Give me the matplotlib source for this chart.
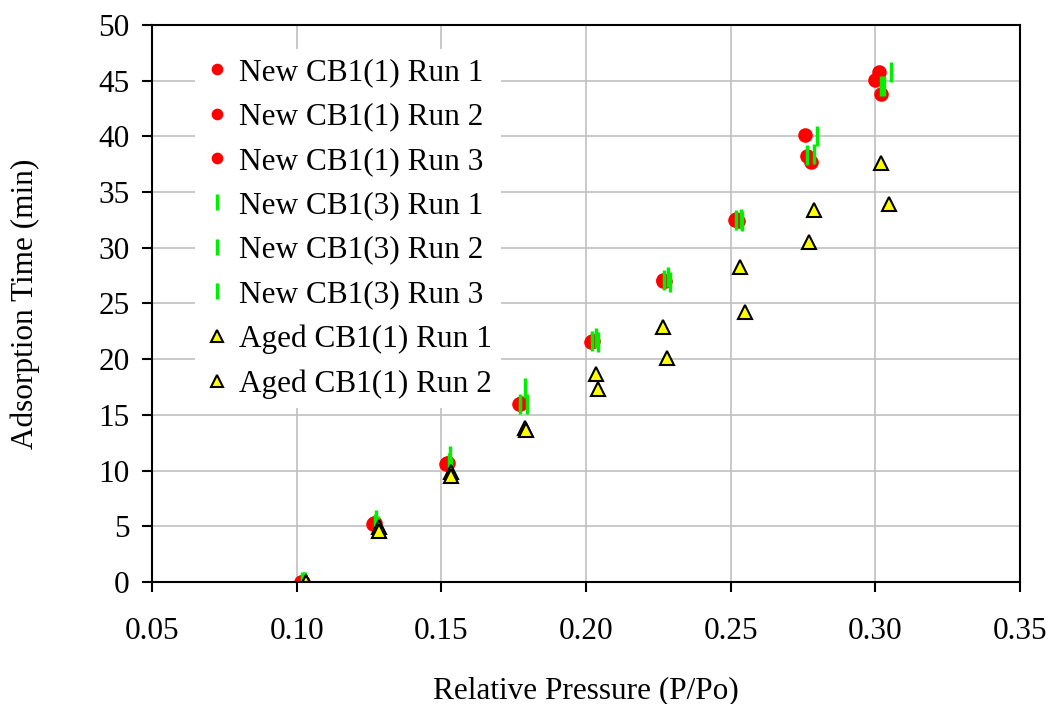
import matplotlib.pyplot as plt

plt.rcParams['font.family'] = ['Liberation Serif', 'DejaVu Serif']

# New CB1(1) - red circles
new1_r1_x = [0.1018, 0.1267, 0.1518, 0.1772, 0.2020, 0.2267, 0.2518, 0.2757, 0.3014]
new1_r1_y = [0.0, 5.3, 10.7, 16.0, 21.6, 27.1, 32.6, 40.1, 45.8]
new1_r2_x = [0.1015, 0.1265, 0.1516, 0.1770, 0.2018, 0.2265, 0.2515, 0.2763, 0.3000]
new1_r2_y = [0.0, 5.2, 10.6, 16.0, 21.5, 27.0, 32.5, 38.2, 45.1]
new1_r3_x = [0.1022, 0.1272, 0.1522, 0.1776, 0.2024, 0.2272, 0.2524, 0.2777, 0.3018]
new1_r3_y = [0.0, 5.3, 10.7, 16.1, 21.6, 27.0, 32.4, 37.7, 43.8]

# New CB1(3) - green bars
new3_r1_x = [0.1025, 0.1275, 0.1530, 0.1790, 0.2035, 0.2285, 0.2535, 0.2800, 0.3054]
new3_r1_y = [0.0, 5.6, 11.3, 17.4, 21.9, 27.4, 32.6, 40.0, 45.8]
new3_r2_x = [0.1020, 0.1270, 0.1525, 0.1772, 0.2022, 0.2268, 0.2520, 0.2765, 0.3021]
new3_r2_y = [0.0, 5.2, 10.7, 16.0, 21.6, 27.1, 32.5, 38.3, 44.5]
new3_r3_x = [0.1028, 0.1280, 0.1535, 0.1795, 0.2040, 0.2290, 0.2540, 0.2788, 0.3031]
new3_r3_y = [0.0, 5.0, 10.2, 16.0, 21.5, 26.9, 32.4, 38.4, 44.5]

# Aged CB1(1) - yellow triangles
aged_r1_x = [0.1032, 0.1285, 0.1535, 0.1790, 0.2034, 0.2267, 0.2532, 0.2788, 0.3019]
aged_r1_y = [0.0, 4.9, 9.9, 13.8, 18.7, 22.9, 28.3, 33.4, 37.6]
aged_r2_x = [0.1032, 0.1285, 0.1535, 0.1792, 0.2040, 0.2279, 0.2549, 0.2772, 0.3048]
aged_r2_y = [0.0, 4.6, 9.5, 13.6, 17.3, 20.1, 24.2, 30.5, 33.9]

fig = plt.figure(figsize=(10.52, 7.04), dpi=100)
ax = fig.add_axes([0.1445, 0.1733, 0.8251, 0.7912])

circ = dict(marker='o', linestyle='none', color='red', markersize=10.5, markeredgewidth=0)
bar = dict(marker='|', linestyle='none', color='#00ee00', markersize=14, markeredgewidth=2.5)
tri = dict(marker='^', linestyle='none', markerfacecolor='yellow', markeredgecolor='black',
           markersize=10.5, markeredgewidth=1.5)

ax.plot(new1_r1_x, new1_r1_y, label='New CB1(1) Run 1', **circ)
ax.plot(new1_r2_x, new1_r2_y, label='New CB1(1) Run 2', **circ)
ax.plot(new1_r3_x, new1_r3_y, label='New CB1(1) Run 3', **circ)
ax.plot(new3_r1_x, new3_r1_y, label='New CB1(3) Run 1', **bar)
ax.plot(new3_r2_x, new3_r2_y, label='New CB1(3) Run 2', **bar)
ax.plot(new3_r3_x, new3_r3_y, label='New CB1(3) Run 3', **bar)
ax.plot(aged_r1_x, aged_r1_y, label='Aged CB1(1) Run 1', **tri)
ax.plot(aged_r2_x, aged_r2_y, label='Aged CB1(1) Run 2', **tri)

ax.set_xlim(0.05, 0.35)
ax.set_ylim(0, 50)
ax.set_xticks([0.05, 0.10, 0.15, 0.20, 0.25, 0.30, 0.35])
ax.set_xticklabels(['0.05', '0.10', '0.15', '0.20', '0.25', '0.30', '0.35'])
ax.set_yticks(range(0, 51, 5))
ax.grid(True, color='#c0c0c0', linewidth=1.2)
ax.set_axisbelow(True)
for s in ax.spines.values():
    s.set_linewidth(1.5)
ax.tick_params(direction='out', length=7, width=1.5, labelsize=22.5)
ax.tick_params(axis='x', pad=18)
ax.tick_params(axis='y', pad=9)

ax.set_xlabel('Relative Pressure (P/Po)', fontsize=22.5, labelpad=22)
ax.set_ylabel('Adsorption Time (min)', fontsize=22.5, labelpad=42)

leg = ax.legend(loc='upper left', bbox_to_anchor=(0.032, 0.985), fontsize=22.5, frameon=True,
                framealpha=1, edgecolor='none', fancybox=False, handlelength=0.8,
                handletextpad=0.28, labelspacing=0.49, borderpad=0.3,
                markerscale=0.8)

fig.savefig('out.png', dpi=100)
